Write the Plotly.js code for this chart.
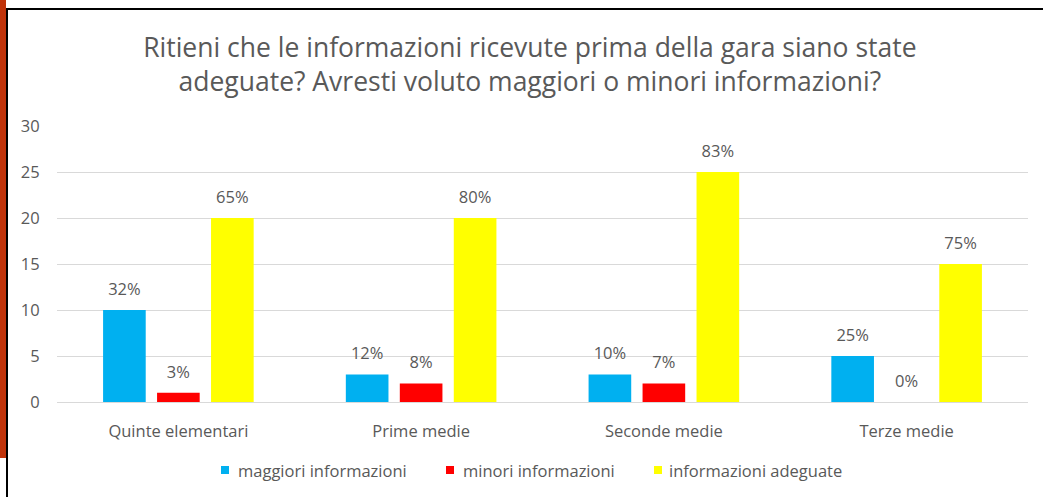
<!DOCTYPE html>
<html>
<head>
<meta charset="utf-8">
<script src="https://cdn.plot.ly/plotly-3.0.1.min.js"></script>
<style>
html,body{margin:0;padding:0;background:#fff;}
#wrap{position:relative;width:1043px;height:497px;overflow:hidden;}
#chart{position:absolute;left:0;top:0;width:1043px;height:497px;}
#strip{position:absolute;left:0;top:0;width:6px;height:458px;background:#C0330A;}
#vline{position:absolute;left:6px;top:8px;width:2px;height:489px;background:#000;}
#hline{position:absolute;left:6px;top:8px;width:1037px;height:2px;background:#000;}
</style>
</head>
<body>
<div id="wrap">
<div id="chart"></div>
<div id="strip"></div>
<div id="vline"></div>
<div id="hline"></div>
</div>
<script>
var categories = ["Quinte elementari", "Prime medie", "Seconde medie", "Terze medie"];
var seriesNames = ["maggiori informazioni", "minori informazioni", "informazioni adeguate"];
var seriesColors = ["#00B0F0", "#FF0000", "#FFFF00"];
var maggiori = [10, 3, 3, 5];
var minori = [1, 2, 2, 0];
var adeguate = [20, 20, 25, 15];
var maggioriLabels = ["32%", "12%", "10%", "25%"];
var minoriLabels = ["3%", "8%", "7%", "0%"];
var adeguateLabels = ["65%", "80%", "83%", "75%"];

var values = [maggiori, minori, adeguate];
var labels = [maggioriLabels, minoriLabels, adeguateLabels];

var font = "Open Sans, sans-serif";
var txtColor = "#595959";

// plot area in pixels
var L = 57, R = 15, T = 126, B = 95, W = 1043, H = 497;
var pw = W - L - R, ph = H - T - B;
function px(x) { return (x - L) / pw; }
function py(y) { return (H - B - y) / ph; }

var data = [];
values.forEach(function (v, i) {
  data.push({
    type: "bar", name: seriesNames[i], x: categories, y: v,
    offsetgroup: String(i), marker: {color: seriesColors[i]},
    hoverinfo: "none", showlegend: false
  });
});
values.forEach(function (v, i) {
  data.push({
    type: "scatter", mode: "markers+text", x: categories, y: v,
    offsetgroup: String(i), text: labels[i], textposition: "top center",
    textfont: {family: font, size: 16.5, color: txtColor},
    marker: {size: 16, opacity: 0}, cliponaxis: false,
    hoverinfo: "none", showlegend: false
  });
});

// custom legend (small squares + labels like the original)
var legendSquareX = [221, 446, 654];
var legendTextX = [236, 461, 667];
var shapes = [], annotations = [];
seriesNames.forEach(function (n, i) {
  shapes.push({
    type: "rect", xref: "paper", yref: "paper",
    x0: px(legendSquareX[i]), x1: px(legendSquareX[i] + 8),
    y0: py(474), y1: py(466),
    fillcolor: seriesColors[i], line: {width: 0}
  });
  annotations.push({
    xref: "paper", yref: "paper", x: px(legendTextX[i]), y: py(470),
    xanchor: "left", yanchor: "middle", showarrow: false, text: n,
    font: {family: font, size: 16.5, color: txtColor}
  });
});

var layout = {
  width: W, height: H,
  margin: {l: L, r: R, t: T, b: B},
  paper_bgcolor: "#ffffff", plot_bgcolor: "#ffffff",
  font: {family: font, color: txtColor},
  title: {
    text: "Ritieni che le informazioni ricevute prima della gara siano state<br>adeguate? Avresti voluto maggiori o minori informazioni?",
    font: {family: font, size: 26.5, color: txtColor},
    x: 0.508, xanchor: "center", y: 1 - 57 / H, yanchor: "top"
  },
  barmode: "group", bargap: 0.333, bargroupgap: 0.21,
  scattermode: "group", scattergap: 0.333,
  xaxis: {
    showgrid: false, zeroline: false, showline: false,
    ticks: "outside", ticklen: 14, tickcolor: "rgba(0,0,0,0)",
    tickfont: {family: font, size: 16.5, color: txtColor}, automargin: false
  },
  yaxis: {
    range: [0, 30], dtick: 5, showgrid: true, gridcolor: "#D9D9D9", gridwidth: 1,
    zeroline: true, zerolinecolor: "#D9D9D9", zerolinewidth: 1,
    ticks: "outside", ticklen: 13, tickcolor: "rgba(0,0,0,0)",
    tickfont: {family: font, size: 16.5, color: txtColor},
    automargin: false
  },
  showlegend: false,
  shapes: shapes,
  annotations: annotations
};

Plotly.newPlot("chart", data, layout, {staticPlot: true, displayModeBar: false});
</script>
</body>
</html>
